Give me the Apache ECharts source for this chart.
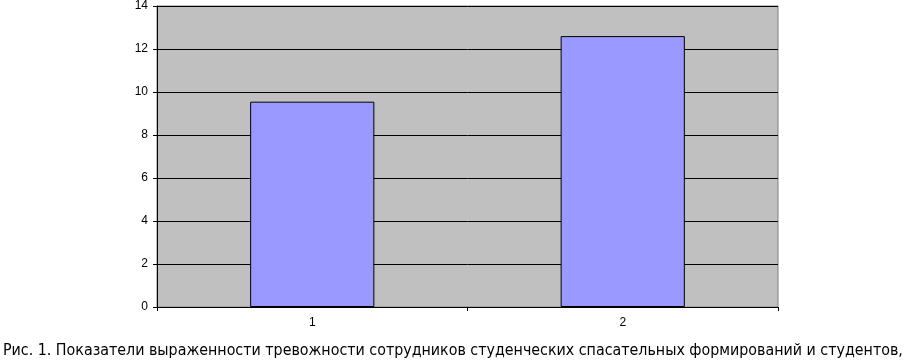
<!DOCTYPE html>
<html><head><meta charset="utf-8">
<script src="https://cdn.jsdelivr.net/npm/echarts@6/dist/echarts.min.js"></script>
<style>html,body{margin:0;padding:0;background:#fff}#c{width:906px;height:363px}</style>
</head><body><div id="c"></div>
<script>
const categories = ['1', '2'];
const values = [9.55, 12.6];
const yTicks = [0, 2, 4, 6, 8, 10, 12, 14];
const caption = 'Рис. 1. Показатели выраженности тревожности сотрудников студенческих спасательных формирований и студентов,';

const chart = echarts.init(document.getElementById('c'), null, {renderer: 'canvas'});
chart.setOption({
  animation: false,
  backgroundColor: '#ffffff',
  title: {
    text: caption, left: -2, top: 338,
    textStyle: {fontFamily: 'DejaVu Sans Condensed, DejaVu Sans', fontWeight: 'normal', fontSize: 15.85, color: '#000'}
  },
  grid: {left: 157, right: 128, top: 5, bottom: 56, show: true, backgroundColor: '#c0c0c0', borderColor: '#808080', borderWidth: 1},
  xAxis: {
    type: 'category', data: categories,
    axisLine: {lineStyle: {color: '#000', width: 1}},
    axisTick: {show: true, length: 4, lineStyle: {color: '#000'}},
    axisLabel: {fontFamily: 'Liberation Sans', fontSize: 12, color: '#000', margin: 10}
  },
  yAxis: {
    type: 'value', min: yTicks[0], max: yTicks[yTicks.length - 1], interval: 2,
    axisLine: {show: true, lineStyle: {color: '#000', width: 1}},
    axisTick: {show: true, length: 4, lineStyle: {color: '#000'}},
    splitLine: {show: true, lineStyle: {color: '#000', width: 1}},
    axisLabel: {fontFamily: 'Liberation Sans', fontSize: 12, color: '#000', margin: 9}
  },
  series: [{
    type: 'bar', data: values, barCategoryGap: '60%',
    itemStyle: {color: '#9999ff', borderColor: '#000', borderWidth: 1}
  }]
});
</script></body></html>
